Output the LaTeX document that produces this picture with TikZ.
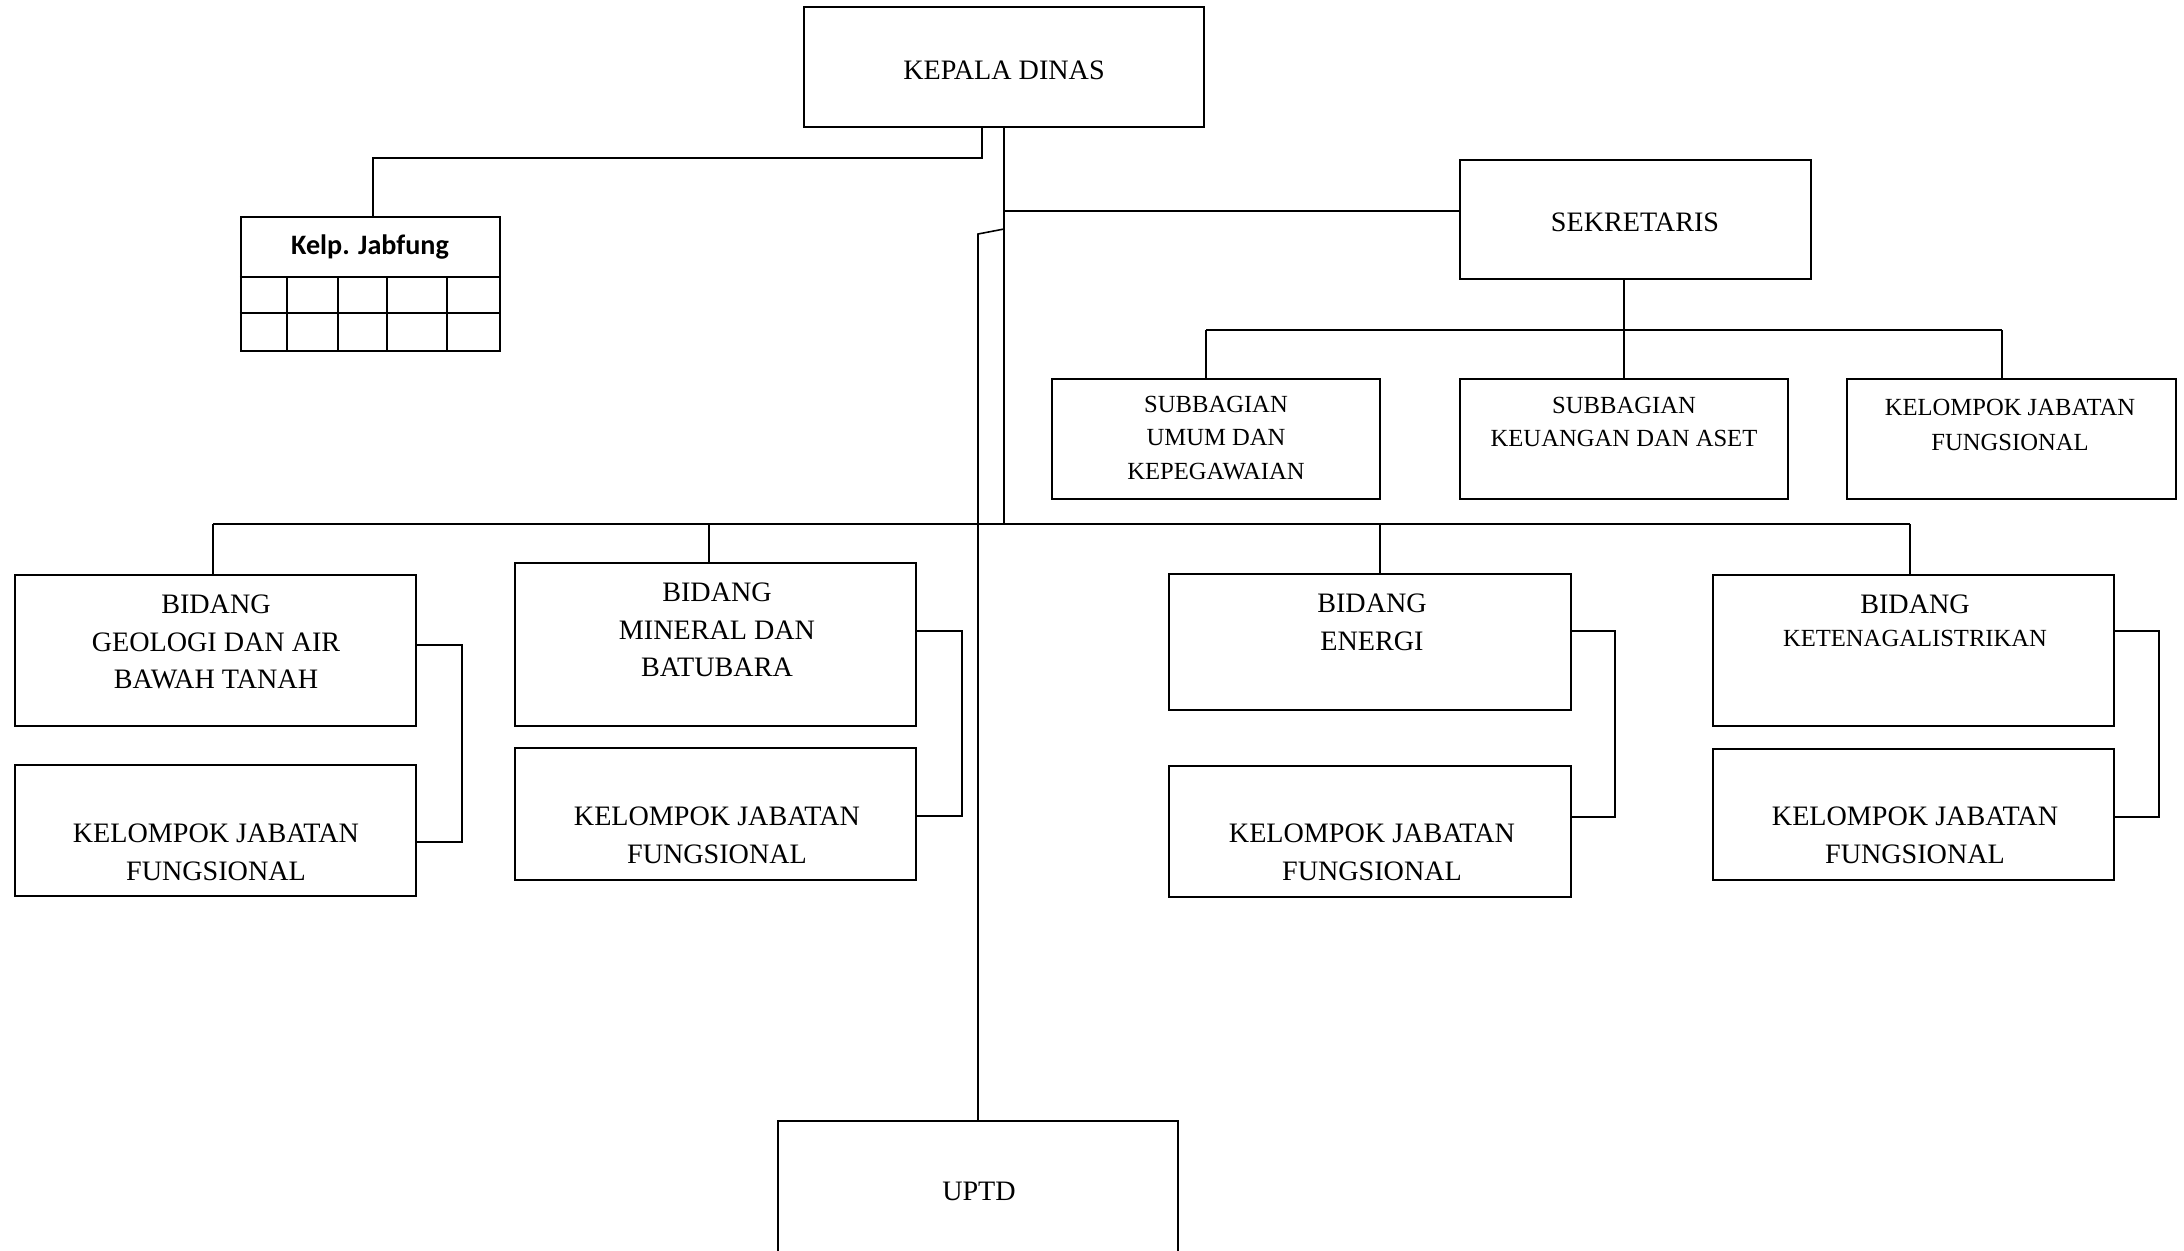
\documentclass[tikz,border=0pt]{standalone}
\usepackage{fontspec}
\setmainfont{Liberation Serif}
\newfontfamily\calfont{Carlito}
\usetikzlibrary{fit}
\begin{document}
\begin{tikzpicture}[x=0.01cm,y=-0.01cm,
 box/.style={draw, line width=0.7pt, inner sep=0pt},
 conn/.style={line width=0.6pt},
 thinconn/.style={line width=0.45pt},
 big/.style={align=center, font=\fontsize{8}{10.7}\selectfont, inner sep=0pt},
 small/.style={align=center, font=\fontsize{7}{9.5}\selectfont, inner sep=0pt}]
\useasboundingbox (0,0) rectangle (2184,1250);
\clip (0,0) rectangle (2184,1250);

% boxes
\node[box, fit={(804,7)(1204,127)}] (kd) {};
\node[big] (kdt) at (1004,70) {KEPALA DINAS};

\node[box, fit={(241,217)(500,351)}] (kj) {};
\coordinate (kjh) at (0,277);
\coordinate (kjr) at (0,313);
\draw[line width=0.6pt] (kj.west |- kjh) -- (kj.east |- kjh);
\draw[line width=0.6pt] (kj.west |- kjr) -- (kj.east |- kjr);
\foreach \cx in {287,338,387,447} \draw[line width=0.6pt] (\cx,277) -- (\cx,351);
\node[inner sep=0pt, font=\calfont\bfseries\fontsize{8}{10}\selectfont] (kjt) at (370,247) {Kelp. Jabfung};

\node[box, fit={(1460,160)(1811,279)}] (sek) {};
\node[big] (sekt) at (1635,222) {SEKRETARIS};

\node[box, fit={(1052,379)(1380,499)}] (sub1) {};
\node[small] (sub1t) at (1216,438) {SUBBAGIAN\\UMUM DAN\\KEPEGAWAIAN};
\node[box, fit={(1460,379)(1788,499)}] (sub2) {};
\node[small] (sub2t) at (1624,422) {SUBBAGIAN\\KEUANGAN DAN ASET};
\node[box, fit={(1847,379)(2176,499)}] (sub3) {};
\node[small, font=\fontsize{7}{10.2}\selectfont] (sub3t) at (2010,425) {KELOMPOK JABATAN\\FUNGSIONAL};

\node[box, fit={(15,575)(416,726)}] (geo) {};
\node[big] (geot) at (216,642) {BIDANG\\GEOLOGI DAN AIR\\BAWAH TANAH};
\node[box, fit={(15,765)(416,896)}] (kel1) {};
\node[big] (kel1t) at (216,852) {KELOMPOK JABATAN\\FUNGSIONAL};

\node[box, fit={(515,563)(916,726)}] (min) {};
\node[big] (mint) at (717,630) {BIDANG\\MINERAL DAN\\BATUBARA};
\node[box, fit={(515,748)(916,880)}] (kel2) {};
\node[big] (kel2t) at (717,835) {KELOMPOK JABATAN\\FUNGSIONAL};

\node[box, fit={(1169,574)(1571,710)}] (ene) {};
\node[big] (enet) at (1372,622) {BIDANG\\ENERGI};
\node[box, fit={(1169,766)(1571,897)}] (kel3) {};
\node[big] (kel3t) at (1372,852) {KELOMPOK JABATAN\\FUNGSIONAL};

\node[box, fit={(1713,575)(2114,726)}] (ket) {};
\node[align=center, inner sep=0pt, font=\fontsize{7}{9.3}\selectfont] (kett) at (1915,621) {{\fontsize{8}{9.3}\selectfont BIDANG}\\KETENAGALISTRIKAN};
\node[box, fit={(1713,749)(2114,880)}] (kel4) {};
\node[big] (kel4t) at (1915,835) {KELOMPOK JABATAN\\FUNGSIONAL};

\node[box, fit={(778,1121)(1178,1300)}] (uptd) {};
\node[big] (uptdt) at (979,1191) {UPTD};

% connectors
\draw[thinconn] ([xshift=-0.22cm]kd.south) -- ++(0,30) -| ([xshift=0.025cm]kj.north);

\coordinate (busy) at (0,524);
\draw[conn] (kd.south) -- (kd.south |- busy);
\draw[conn] ([xshift=-0.025cm]geo.north |- busy) -- ([xshift=-0.035cm]ket.north |- busy);
\draw[conn] ([xshift=-0.025cm]geo.north |- busy) -- ([xshift=-0.025cm]geo.north);
\draw[conn] ([xshift=-0.065cm]min.north |- busy) -- ([xshift=-0.065cm]min.north);
\draw[conn] ([xshift=0.1cm]ene.north |- busy) -- ([xshift=0.1cm]ene.north);
\draw[conn] ([xshift=-0.035cm]ket.north |- busy) -- ([xshift=-0.035cm]ket.north);

\coordinate (sj) at (1004,211);
\draw[conn] (sj) -- (sj -| sek.west);

\coordinate (sbusy) at (0,330);
\draw[conn] (sub2.north |- sek.south) -- (sub2.north);
\draw[conn] ([xshift=-0.1cm]sub1.north |- sbusy) -- ([xshift=-0.095cm]sub3.north |- sbusy);
\draw[conn] ([xshift=-0.1cm]sub1.north |- sbusy) -- ([xshift=-0.1cm]sub1.north);
\draw[conn] ([xshift=-0.095cm]sub3.north |- sbusy) -- ([xshift=-0.095cm]sub3.north);

\draw[conn] ([yshift=0.055cm]geo.east) -- ++(45,0) |- ([yshift=-0.115cm]kel1.east);
\draw[conn] ([yshift=0.135cm]min.east) -- ++(45,0) |- ([yshift=-0.02cm]kel2.east);
\draw[conn] ([yshift=0.11cm]ene.east) -- ++(43,0) |- ([yshift=0.145cm]kel3.east);
\draw[conn] ([yshift=0.195cm]ket.east) -- ++(44,0) |- ([yshift=-0.025cm]kel4.east);

\coordinate (uj) at (1004,229);
\coordinate (uk) at (978,234);
\draw[thinconn] (uj) -- (uk) -- (uptd.north);
\end{tikzpicture}
\end{document}
